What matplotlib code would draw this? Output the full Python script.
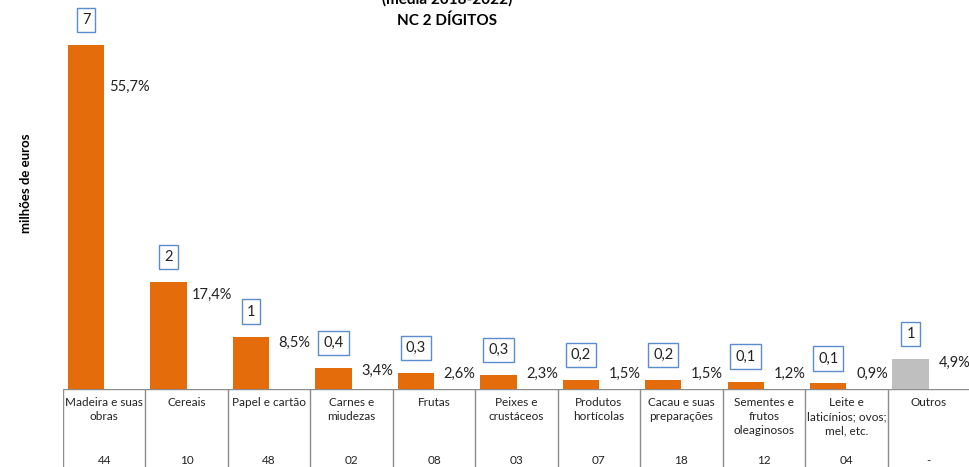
import numpy as np
import matplotlib
matplotlib.use("Agg")
import matplotlib.pyplot as plt

plt.rcParams['font.family'] = ['Lato', 'DejaVu Sans']

# data
categorias = ["Madeira e suas\nobras", "Cereais", "Papel e cartão", "Carnes e\nmiudezas",
              "Frutas", "Peixes e\ncrustáceos", "Produtos\nhortícolas", "Cacau e suas\npreparações",
              "Sementes e\nfrutos\noleaginosos", "Leite e\nlaticínios; ovos;\nmel, etc.", "Outros"]
codigos = ["44", "10", "48", "02", "08", "03", "07", "18", "12", "04", "-"]
quota = [55.7, 17.4, 8.5, 3.4, 2.6, 2.3, 1.5, 1.5, 1.2, 0.9, 4.9]
milhoes = [7, 2, 1, 0.4, 0.3, 0.3, 0.2, 0.2, 0.1, 0.1, 1]

laranja = "#E46C0A"
cinza = "#BFBFBF"

W, H = 970, 467
fig = plt.figure(figsize=(W / 100, H / 100), dpi=100)

base = 389
x0 = 63
ax = fig.add_axes([x0 / W, (H - base) / H, (W - x0) / W, base / H])
n = len(quota)
xs = np.arange(n)
cores = [laranja] * (n - 1) + [cinza]
ax.bar(xs + 0.28, quota, width=0.44, color=cores)
ax.set_xlim(0, n)
ax.set_ylim(0, base / 6.17)
ax.axis("off")

for i in range(n):
    txt = ("%g" % milhoes[i]).replace(".", ",")
    ax.annotate(txt, (i + 0.28, quota[i]), xytext=(0, 18), textcoords="offset points",
                ha="center", va="center", fontsize=10.5, color="#222222",
                bbox=dict(boxstyle="square,pad=0.35", fc="white", ec="#5B8BD0", lw=1))
    pct = ("%.1f%%" % quota[i]).replace(".", ",")
    ax.text(i + 0.81, max(quota[i] * 0.88, 2.5), pct, ha="center", va="center",
            fontsize=10.5, color="#222222")

# tabela por baixo do eixo
tb = fig.add_axes([x0 / W, 0, (W - x0) / W, (H - base) / H])
tb.set_xlim(0, n)
tb.set_ylim(H - base, 0)
tb.axis("off")
tb.axhline(0, color="#8C8C8C", lw=1)
for i in range(n + 1):
    tb.axvline(i, color="#8C8C8C", lw=1)
for i in range(n):
    tb.text(i + 0.5, 8, categorias[i], ha="center", va="top", fontsize=8.5,
            linespacing=1.35, color="#222222")
    tb.text(i + 0.5, 72, codigos[i], ha="center", va="center", fontsize=8.5, color="#222222")

fig.text(447 / W, 1 + 1 / H, "(média 2018-2022)", ha="center", va="center",
         fontsize=11, fontweight="bold")
fig.text(447 / W, 1 - 21 / H, "NC 2 DÍGITOS", ha="center", va="center",
         fontsize=11, fontweight="bold")
fig.text(26 / W, 1 - 183 / H, "milhões de euros", rotation=90, ha="center", va="center",
         fontsize=9.5, fontweight="bold")

fig.savefig("out.png", dpi=100)
